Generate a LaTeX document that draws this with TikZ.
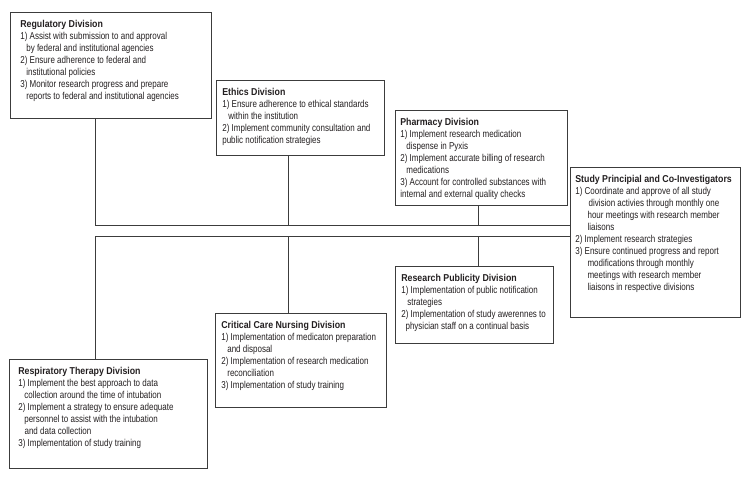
\documentclass[tikz,border=0pt]{standalone}
\usepackage{fontspec}
\setmainfont{Liberation Sans}[FakeStretch=0.8, BoldFeatures={FakeStretch=0.88}]
\definecolor{boxline}{HTML}{3C3C3C}
\definecolor{ink}{HTML}{231F20}
\newcommand{\divbody}[3]{\parbox[t][#2][t]{#1}{\raggedright #3}}
\newcommand{\ind}[1][6pt]{\hspace*{#1}}
\tikzset{
  division/.style={draw=boxline, line width=0.7pt, anchor=north west, inner xsep=6pt,
    inner ysep=7.5pt, text=ink, font=\fontsize{10}{12}\selectfont},
  link/.style={draw=boxline, line width=0.7pt},
}
\begin{document}
\begin{tikzpicture}[x=1pt, y=-1pt]
  \useasboundingbox (0,0) rectangle (744,480);

  % upper divisions
  \node[division, inner xsep=10pt] (reg) at (10,12) {\divbody{181pt}{91pt}{%
    \textbf{Regulatory Division}\\
    1) Assist with submission to and approval\\
    \ind by federal and institutional agencies\\
    2) Ensure adherence to federal and\\
    \ind institutional policies\\
    3) Monitor research progress and prepare\\
    \ind reports to federal and institutional agencies}};
  \node[division] (eth) at (216,80) {\divbody{156pt}{60pt}{%
    \textbf{Ethics Division}\\
    1) Ensure adherence to ethical standards\\
    \ind within the institution\\
    2) Implement community consultation and\\
    public notification strategies}};
  \node[division, inner xsep=5pt] (pha) at (395,110) {\divbody{162pt}{80pt}{%
    \textbf{Pharmacy Division}\\
    1) Implement research medication\\
    \ind dispense in Pyxis\\
    2) Implement accurate billing of research\\
    \ind medications\\
    3) Account for controlled substances with\\
    internal and external quality checks}};

  % study leads
  \node[division, inner xsep=5pt] (spi) at (570,167) {\divbody{160pt}{135pt}{%
    \textbf{Study Principial and Co-Investigators}\\
    1) Coordinate and approve of all study\\
    \ind[11pt] division activies through monthly one\\
    \ind[10pt] hour meetings with research member\\
    \ind[10pt] liaisons\\
    2) Implement research strategies\\
    3) Ensure continued progress and report\\
    \ind[10pt] modifications through monthly\\
    \ind[10pt] meetings with research member\\
    \ind[10pt] liaisons in respective divisions}};

  % lower divisions
  \node[division] (pub) at (395,266) {\divbody{146pt}{62pt}{%
    \textbf{Research Publicity Division}\\
    1) Implementation of public notification\\
    \ind strategies\\
    2) Implementation of study awerennes to\\
    \ind[2pt] physician staff on a continual basis}};
  \node[division] (ccn) at (215,313) {\divbody{159pt}{79pt}{%
    \textbf{Critical Care Nursing Division}\\
    1) Implementation of medicaton preparation\\
    \ind and disposal\\
    2) Implementation of research medication\\
    \ind reconciliation\\
    3) Implementation of study training}};
  \node[division, inner xsep=9pt] (rtd) at (9,359) {\divbody{180pt}{94pt}{%
    \textbf{Respiratory Therapy Division}\\
    1) Implement the best approach to data\\
    \ind collection around the time of intubation\\
    2) Implement a strategy to ensure adequate\\
    \ind personnel to assist with the intubation\\
    \ind[4pt] and data collection\\
    3) Implementation of study training}};

  % bus lines
  \coordinate (topbus) at (0,225);
  \coordinate (botbus) at (0,236);
  \coordinate (colA) at (95,0);
  \coordinate (colB) at (288,0);
  \coordinate (colC) at (478,0);

  \draw[link] (reg.south -| colA) -- (topbus -| colA) -- (topbus -| spi.west);
  \draw[link] (eth.south -| colB) -- (topbus -| colB);
  \draw[link] (pha.south -| colC) -- (topbus -| colC);
  \draw[link] (spi.west |- botbus) -- (botbus -| colA) -- (rtd.north -| colA);
  \draw[link] (botbus -| colB) -- (ccn.north -| colB);
  \draw[link] (botbus -| colC) -- (pub.north -| colC);
\end{tikzpicture}
\end{document}
